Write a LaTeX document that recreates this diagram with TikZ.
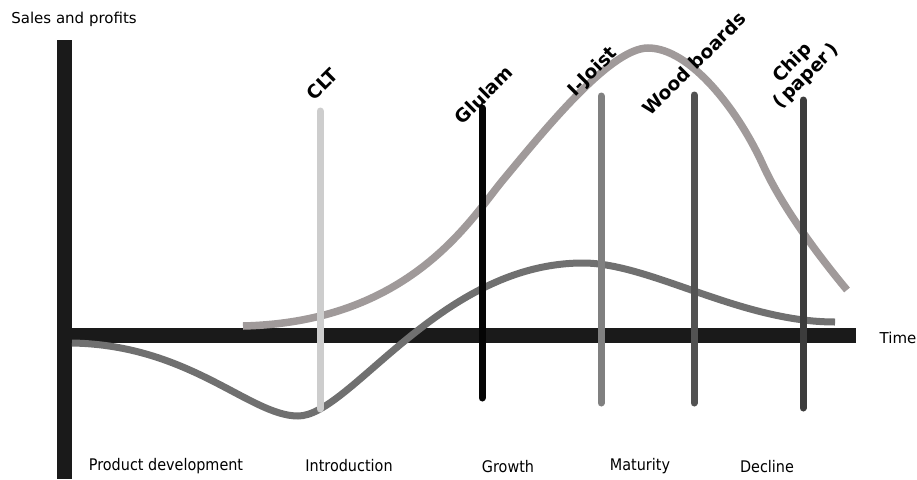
\documentclass[tikz,border=0pt]{standalone}
\usepackage{fontspec}
\setmainfont{DejaVu Sans}
\newfontfamily\narrowfont[FakeStretch=0.9]{DejaVu Sans}
\usetikzlibrary{positioning}
\definecolor{axisblack}{RGB}{26,26,26}
\definecolor{salesgray}{RGB}{160,154,154}
\definecolor{profitgray}{RGB}{112,112,112}
\definecolor{cltgray}{RGB}{205,205,205}
\definecolor{glulamblack}{RGB}{5,5,5}
\definecolor{joistgray}{RGB}{128,128,128}
\definecolor{woodgray}{RGB}{82,82,82}
\definecolor{chipgray}{RGB}{60,60,60}

\begin{document}
\begin{tikzpicture}[x=1pt, y=-1pt,
    every node/.style={inner sep=0pt, font=\fontsize{15}{17}\selectfont},
    product/.style={font=\bfseries\fontsize{18.5}{19}\selectfont, rotate=45, anchor=south west, align=center},
    phase/.style={font=\narrowfont\fontsize{16}{18}\selectfont},
    bar/.style={line width=7pt, line cap=round},
    curve/.style={line width=7.5pt}]
  \useasboundingbox (0,0) rectangle (917,479);
  % axes
  \draw[axisblack, line width=15pt] (64,40) -- (64,479);
  \draw[axisblack, line width=15pt] (57,335) -- (856,335);
  \node (sales) at (74,19) {Sales and profits};
  \node (time) at (898,338) {Time};
  % sales and profit curves
  \draw[curve, salesgray] (243,326) .. controls (410,322) and (470,220) .. (503,180)
    .. controls (543,132) and (610,48) .. (648,48)
    .. controls (690,48) and (738,110) .. (763,165)
    .. controls (783,209) and (822,260) .. (847,290);
  \draw[curve, profitgray, line width=7pt] (72,343) .. controls (190,345) and (250,416) .. (298,416)
    .. controls (350,416) and (440,263) .. (583,263)
    .. controls (650,263) and (740,322) .. (835,322);
  % product bars
  \coordinate (clt top) at (320,111);   \coordinate (clt bottom) at (320,409);
  \coordinate (glulam top) at (482,108); \coordinate (glulam bottom) at (482,398);
  \coordinate (joist top) at (601,96);   \coordinate (joist bottom) at (601,403);
  \coordinate (wood top) at (694,95);    \coordinate (wood bottom) at (694,403);
  \coordinate (chip top) at (803,100);   \coordinate (chip bottom) at (803,408);
  \draw[bar, cltgray] (clt top) -- (clt bottom);
  \draw[bar, glulamblack] (glulam top) -- (glulam bottom);
  \draw[bar, joistgray] (joist top) -- (joist bottom);
  \draw[bar, woodgray] (wood top) -- (wood bottom);
  \draw[bar, chipgray] (chip top) -- (chip bottom);
  % product labels
  \node[product] (clt) at (315,102) {CLT};
  \node[product] (glulam) at (463,126) {Glulam};
  \node[product] (joist) at (578,100) {I-Joist};
  \node[product] (wood) at (651,117) {Wood boards};
  \node[product] (chip) at (783,113) {Chip\\(\,paper\,)};
  % life-cycle phases
  \node[phase] (develop) at (166,466) {Product development};
  \node[phase] (intro) at (349,466) {Introduction};
  \node[phase] (growth) at (508,467) {Growth};
  \node[phase] (maturity) at (640,466) {Maturity};
  \node[phase] (decline) at (767,467) {Decline};
\end{tikzpicture}
\end{document}
